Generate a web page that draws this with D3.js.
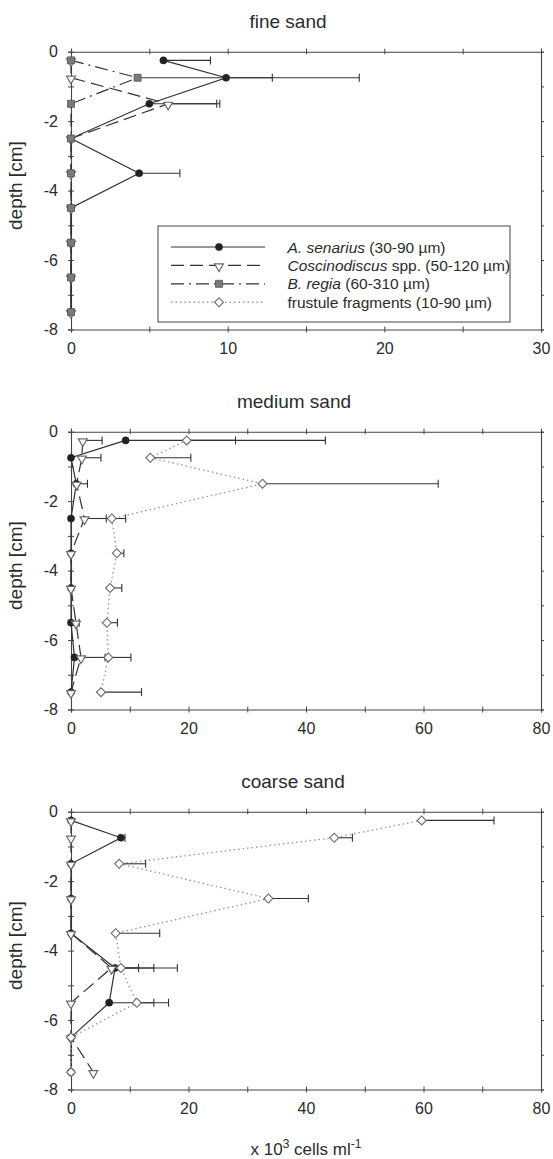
<!DOCTYPE html>
<html>
<head>
<meta charset="utf-8">
<script src="https://cdn.jsdelivr.net/npm/d3@7"></script>
<style>
  html, body { margin: 0; padding: 0; background: #fff; }
  svg { display: block; font-family: Arial, "Liberation Sans", Helvetica, sans-serif; }
</style>
</head>
<body>
<svg id="chart" width="553" height="1159"></svg>
<script>
// Sampling depths (cm), shared by all panels
const depths = [-0.25, -0.75, -1.5, -2.5, -3.5, -4.5, -5.5, -6.5, -7.5];
const depthTicks = [0, -1, -2, -3, -4, -5, -6, -7, -8];

// Panel titles and x-axis extents (x 10^3 cells per ml)
const panelTitles = ["fine sand", "medium sand", "coarse sand"];
const titleCenters = [288, 294, 293];
const xMaxes = [30, 80, 80];
const xMinorSteps = [5, 10, 10];
const xLabelSteps = [10, 20, 20];

// Fine sand: means and standard deviations (null = no bar)
const fineSenarius    = [5.9, 9.9, 5.0, 0, 4.35, 0, 0, 0, 0];
const fineSenariusSd  = [3.0, 8.5, 4.3, null, 2.6, null, null, null, null];
const fineCosc        = [0, 0, 6.2, 0, 0, 0, 0, 0, 0];
const fineCoscSd      = [null, null, 3.3, null, null, null, null, null, null];
const fineRegia       = [0, 4.25, 0, 0, 0, 0, 0, 0, 0];
const fineRegiaSd     = [null, 8.6, null, null, null, null, null, null, null];

// Medium sand
const medSenarius     = [9.3, 0, 0.9, 0, 0, 0, 0, 0.6, 0];
const medSenariusSd   = [18.7, null, null, null, null, null, null, null, null];
const medCosc         = [2.0, 1.85, 0.95, 2.3, 0, 0, 0.85, 1.7, 0];
const medCoscSd       = [3.3, 3.25, 1.85, 3.7, null, null, 0.55, 4.1, null];
const medFrag         = [19.7, 13.5, 32.6, 6.95, 7.8, 6.65, 6.1, 6.35, 5.1];
const medFragSd       = [23.6, 6.9, 29.9, 2.35, 1.2, 2.0, 1.8, 3.85, 6.9];

// Coarse sand
const coarseSenarius   = [0, 8.5, 0, 0, 0, 7.5, 6.5, 0, 0];
const coarseSenariusSd = [null, 0.7, null, null, null, 4.0, 7.6, null, null];
const coarseCosc       = [0, 0, 0, 0, 0, 6.9, 0, 0, 3.8];
const coarseCoscSd     = [null, null, null, null, null, 7.2, null, null, null];
const coarseFrag       = [59.7, 44.8, 8.2, 33.6, 7.6, 8.5, 11.2, 0, 0];
const coarseFragSd     = [12.3, 3.1, 4.5, 6.8, 7.5, 9.6, 5.4, null, null];

// Series appearance
const styles = {
  senarius: { dash: null,          stroke: "#333", width: 1.2, symbol: "circle" },
  cosc:     { dash: "13,6",        stroke: "#333", width: 1.2, symbol: "triangle" },
  regia:    { dash: "13,5,2,5",    stroke: "#333", width: 1.2, symbol: "square" },
  frag:     { dash: "1.5,3",       stroke: "#9a9a9a", width: 1.4, symbol: "diamond" }
};

const panels = [
  { series: [
      { key: "senarius", v: fineSenarius, sd: fineSenariusSd },
      { key: "cosc",     v: fineCosc,     sd: fineCoscSd },
      { key: "regia",    v: fineRegia,    sd: fineRegiaSd } ] },
  { series: [
      { key: "senarius", v: medSenarius,  sd: medSenariusSd },
      { key: "cosc",     v: medCosc,      sd: medCoscSd },
      { key: "frag",     v: medFrag,      sd: medFragSd } ] },
  { series: [
      { key: "senarius", v: coarseSenarius, sd: coarseSenariusSd },
      { key: "cosc",     v: coarseCosc,     sd: coarseCoscSd },
      { key: "frag",     v: coarseFrag,     sd: coarseFragSd } ] }
];

const legendItems = [
  { key: "senarius", parts: [["A. senarius", true], [" (30-90 µm)", false]] },
  { key: "cosc",     parts: [["Coscinodiscus", true], [" spp. (50-120 µm)", false]] },
  { key: "regia",    parts: [["B. regia", true], [" (60-310 µm)", false]] },
  { key: "frag",     parts: [["frustule fragments (10-90 µm)", false]] }
];

const svg = d3.select("#chart");
const left = 71, right = 541;
const panelTops = [51.7, 431.7, 811.7];
const panelH = 277.8;
const ink = "#2b2b2b";

function drawMarker(g, type, x, y) {
  let p;
  if (type === "circle") {
    p = g.append("path").attr("d", d3.symbol(d3.symbolCircle, 40)())
      .attr("fill", "#222").attr("stroke", "#222").attr("stroke-width", 0.6);
  } else if (type === "triangle") {
    p = g.append("path").attr("d", d3.symbol(d3.symbolTriangle, 34)())
      .attr("fill", "#fff").attr("stroke", "#6a6a6a").attr("stroke-width", 1.2);
    p.attr("transform", `translate(${x},${y + 1}) rotate(180)`);
    return p;
  } else if (type === "square") {
    p = g.append("path").attr("d", d3.symbol(d3.symbolSquare, 49)())
      .attr("fill", "#7a7a7a").attr("stroke", "#555").attr("stroke-width", 0.8);
  } else {
    p = g.append("path").attr("d", d3.symbol(d3.symbolSquare, 40)())
      .attr("fill", "#fff").attr("stroke", "#6a6a6a").attr("stroke-width", 1.1);
    p.attr("transform", `translate(${x},${y}) rotate(45)`);
    return p;
  }
  p.attr("transform", `translate(${x},${y})`);
  return p;
}

panels.forEach((panel, i) => {
  const top = panelTops[i], bottom = top + panelH;
  const x = d3.scaleLinear().domain([0, xMaxes[i]]).range([left, right]);
  const y = d3.scaleLinear().domain([-8, 0]).range([bottom, top]);
  const g = svg.append("g");

  // title
  g.append("text").attr("x", titleCenters[i]).attr("y", top - 24)
    .attr("text-anchor", "middle").attr("font-size", 19).attr("fill", ink)
    .text(panelTitles[i]);

  // y label
  g.append("text")
    .attr("transform", `translate(22,${(top + bottom) / 2 - 5}) rotate(-90)`)
    .attr("text-anchor", "middle").attr("font-size", 19).attr("fill", ink)
    .text("depth [cm]");

  const xTickVals = d3.range(0, xMaxes[i] + 0.001, xMinorSteps[i]);

  // frame axes
  const axTop = g.append("g").attr("transform", `translate(0,${top})`)
    .call(d3.axisTop(x).tickValues(xTickVals).tickSize(3).tickFormat(""));
  const axRight = g.append("g").attr("transform", `translate(${right},0)`)
    .call(d3.axisRight(y).tickValues(depthTicks).tickSize(3).tickFormat(""));
  const axBottom = g.append("g").attr("transform", `translate(0,${bottom})`)
    .call(d3.axisBottom(x).tickValues(xTickVals).tickSize(3).tickPadding(10)
      .tickFormat(d => d % xLabelSteps[i] === 0 ? String(d) : ""));
  const axLeft = g.append("g").attr("transform", `translate(${left},0)`)
    .call(d3.axisLeft(y).tickValues(depthTicks).tickSize(3).tickPadding(10)
      .tickFormat(d => d % 2 === 0 ? String(d) : ""));

  [axTop, axRight, axBottom, axLeft].forEach(a => {
    a.select(".domain").attr("stroke", "#444").attr("stroke-width", 1.1);
    a.selectAll(".tick line").attr("stroke", "#444");
    a.selectAll(".tick text").attr("font-size", 16).attr("fill", ink)
      .attr("font-family", "Arial, 'Liberation Sans', sans-serif");
  });
  // ticks straddle the top, bottom and left lines
  axTop.selectAll(".tick line").attr("y1", 2.5).attr("y2", -3);
  axBottom.selectAll(".tick line").attr("y1", -3).attr("y2", 3);
  axLeft.selectAll(".tick line").attr("x1", 3).attr("x2", -3);

  // series: line, error bars, markers
  panel.series.forEach(s => {
    const st = styles[s.key];
    const pts = depths.map((d, k) => ({ d, v: s.v[k], sd: s.sd[k] }));
    const line = d3.line().x(p => x(p.v)).y(p => y(p.d));
    g.append("path").datum(pts).attr("d", line)
      .attr("fill", "none").attr("stroke", st.stroke)
      .attr("stroke-width", st.width)
      .attr("stroke-dasharray", st.dash);

    pts.filter(p => p.sd != null).forEach(p => {
      const x0 = x(p.v), x1 = x(p.v + p.sd), yy = y(p.d);
      g.append("line").attr("x1", x0).attr("x2", x1).attr("y1", yy).attr("y2", yy)
        .attr("stroke", "#333").attr("stroke-width", 1.1);
      g.append("line").attr("x1", x1).attr("x2", x1).attr("y1", yy - 4).attr("y2", yy + 4)
        .attr("stroke", "#333").attr("stroke-width", 1.1);
    });

    pts.forEach(p => drawMarker(g, st.symbol, x(p.v), y(p.d)));
  });

  // legend in the first panel
  if (i === 0) {
    const lg = g.append("g");
    lg.append("rect").attr("x", 158).attr("y", 226).attr("width", 352).attr("height", 96)
      .attr("fill", "#fff").attr("stroke", "#444").attr("stroke-width", 1);
    legendItems.forEach((it, k) => {
      const yy = 247 + k * 18.4;
      const st = styles[it.key];
      lg.append("line").attr("x1", 171).attr("x2", 265).attr("y1", yy).attr("y2", yy)
        .attr("stroke", st.stroke).attr("stroke-width", st.width)
        .attr("stroke-dasharray", st.dash);
      drawMarker(lg, st.symbol, 219, yy);
      const t = lg.append("text").attr("x", 287.5).attr("y", yy + 5.5)
        .attr("font-size", 15.5).attr("fill", ink);
      it.parts.forEach(([txt, it2]) => {
        t.append("tspan").attr("font-style", it2 ? "italic" : "normal").text(txt);
      });
    });
  }
});

// shared x-axis label
const xl = svg.append("text").attr("x", 306).attr("y", 1155)
  .attr("text-anchor", "middle").attr("font-size", 17).attr("fill", ink);
xl.append("tspan").text("x 10");
xl.append("tspan").attr("dy", -7).attr("font-size", 12).text("3");
xl.append("tspan").attr("dy", 7).text(" cells ml");
xl.append("tspan").attr("dy", -7).attr("font-size", 12).text("-1");
</script>
</body>
</html>
